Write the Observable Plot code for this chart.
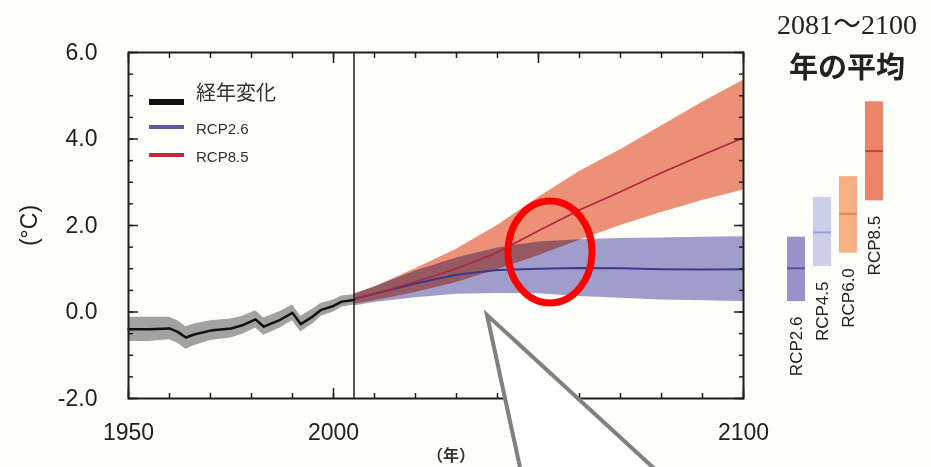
<!DOCTYPE html>
<html><head><meta charset="utf-8">
<script src="https://cdn.jsdelivr.net/npm/d3@7"></script>
<script src="https://cdn.jsdelivr.net/npm/@observablehq/plot@0.6"></script>
<style>
html,body{margin:0;padding:0;background:#fdfdf9;}
#wrap{position:relative;width:931px;height:467px;overflow:hidden;font-family:"Liberation Sans",Arial,sans-serif;}
#wrap > svg{position:absolute;left:0;top:0;}
</style></head><body><div id="wrap"></div>
<script>
// historical (経年変化)
const histYears = [1950,1955,1960,1962,1964,1966,1970,1975,1978,1981,1983,1987,1990,1992,1995,1997,2000,2002,2005];
const histMean  = [-0.40,-0.40,-0.38,-0.46,-0.59,-0.52,-0.43,-0.38,-0.30,-0.17,-0.34,-0.18,-0.02,-0.28,-0.10,0.05,0.14,0.24,0.28];
const histHi    = [-0.12,-0.12,-0.12,-0.20,-0.34,-0.28,-0.20,-0.16,-0.09,0.03,-0.14,0.01,0.16,-0.10,0.07,0.20,0.28,0.37,0.40];
const histLo    = [-0.68,-0.68,-0.64,-0.72,-0.86,-0.78,-0.66,-0.60,-0.51,-0.37,-0.54,-0.37,-0.20,-0.46,-0.27,-0.10,0.00,0.11,0.16];

// projections
const projYears = [2005,2010,2020,2030,2040,2050,2060,2070,2080,2090,2100];
const rcp85Mean = [0.30,0.42,0.70,1.00,1.38,1.88,2.36,2.78,3.22,3.63,4.03];
const rcp85Hi   = [0.40,0.58,1.00,1.45,2.00,2.65,3.25,3.75,4.30,4.85,5.36];
const rcp85Lo   = [0.18,0.26,0.45,0.68,0.98,1.30,1.66,2.00,2.30,2.58,2.82];
const rcp26Mean = [0.30,0.42,0.66,0.86,0.97,1.00,1.02,1.01,0.99,0.98,0.99];
const rcp26Hi   = [0.42,0.58,0.95,1.25,1.48,1.62,1.67,1.70,1.71,1.73,1.74];
const rcp26Lo   = [0.14,0.22,0.33,0.41,0.43,0.42,0.36,0.32,0.28,0.26,0.24];

// 2081～2100 averages
const scenarios = ["RCP2.6","RCP4.5","RCP6.0","RCP8.5"];
const avgLo   = [0.24,1.05,1.36,2.57];
const avgHi   = [1.73,2.65,3.13,4.86];
const avgMean = [1.01,1.84,2.27,3.72];
const avgFill = ["#9b92c9","#cbcfeb","#f6b083","#eb8469"];
const avgLine = ["#5b4c98","#9d9fcf","#e2844f","#c2413c"];

const xMajor = [1950,2000,2050,2100];
const xLabels = [1950,2000,2100];
const yLabels = [-2,0,2,4,6];
const endYear = 2005;

const hist = histYears.map((x,i)=>({x, m:histMean[i], hi:histHi[i], lo:histLo[i]}));
const proj = projYears.map((x,i)=>({x, m85:rcp85Mean[i], hi85:rcp85Hi[i], lo85:rcp85Lo[i], m26:rcp26Mean[i], hi26:rcp26Hi[i], lo26:rcp26Lo[i]}));

const ink = "#1e1e1e";
const xMinor = d3.range(1950, 2101, 10);
const yMinor = d3.range(-2, 6.01, 0.5);
const tk = {fill: "none", stroke: ink, strokeWidth: 1.5, label: null};
const main = Plot.plot({
  width: 931, height: 467,
  marginLeft: 128, marginRight: 188, marginTop: 52, marginBottom: 69,
  x: {domain: [1950, 2100]},
  y: {domain: [-2, 6]},
  style: {background: "transparent", fontFamily: "'Liberation Sans', Arial, sans-serif", color: ink},
  marks: [
    Plot.areaY(hist, {x: "x", y1: "lo", y2: "hi", fill: "#a2a2a2"}),
    Plot.areaY(proj, {x: "x", y1: "lo85", y2: "hi85", fill: "#ec9078"}),
    Plot.areaY(proj, {x: "x", y1: "lo26", y2: "hi26", fill: "#a29ecf", mixBlendMode: "multiply"}),
    Plot.line(proj, {x: "x", y: "m26", stroke: "#3a3a8c", strokeWidth: 2}),
    Plot.line(proj, {x: "x", y: "m85", stroke: "#b3263a", strokeWidth: 1.6}),
    Plot.line(hist, {x: "x", y: "m", stroke: "#111", strokeWidth: 2.5}),
    Plot.ruleX([endYear], {stroke: ink, strokeWidth: 1.5}),
    // inward ticks (drawn outward, then shifted inside the frame)
    Plot.axisX({anchor: "bottom", ticks: xMinor, tickSize: 5, dy: -5, ...tk}),
    Plot.axisX({anchor: "bottom", ticks: xMajor, tickSize: 10, dy: -10, ...tk}),
    Plot.axisX({anchor: "top", ticks: xMinor, tickSize: 5, dy: 5, ...tk}),
    Plot.axisX({anchor: "top", ticks: xMajor, tickSize: 10, dy: 10, ...tk}),
    Plot.axisY({anchor: "left", ticks: yMinor, tickSize: 5, dx: 5, ...tk}),
    Plot.axisY({anchor: "left", ticks: yLabels, tickSize: 10, dx: 10, ...tk}),
    Plot.axisY({anchor: "right", ticks: yMinor, tickSize: 5, dx: -5, ...tk}),
    Plot.axisY({anchor: "right", ticks: yLabels, tickSize: 10, dx: -10, ...tk}),
    // labels
    Plot.axisX({anchor: "bottom", ticks: xLabels, tickSize: 0, tickPadding: 25, tickFormat: d => String(d), fontSize: 23, fill: "#222", label: null}),
    Plot.axisY({anchor: "left", ticks: yLabels, tickSize: 0, tickPadding: 31, tickFormat: d => d.toFixed(1), fontSize: 23, fill: "#222",
      label: "(°C)", labelAnchor: "center", labelOffset: 108, labelArrow: "none"}),
    Plot.frame({stroke: ink, strokeWidth: 2})
  ]
});

const idx = d3.range(scenarios.length);
const side = Plot.plot({
  width: 931, height: 467,
  marginLeft: 777.5, marginRight: 39, marginTop: 52, marginBottom: 69,
  x: {type: "band", domain: scenarios, padding: 0.32, axis: null},
  y: {domain: [-2, 6], axis: null},
  style: {background: "transparent", fontFamily: "'Liberation Sans', Arial, sans-serif"},
  marks: [
    Plot.barY(idx, {x: i => scenarios[i], y1: i => avgLo[i], y2: i => avgHi[i], fill: i => avgFill[i]}),
    Plot.tickY(idx, {x: i => scenarios[i], y: i => avgMean[i], stroke: i => avgLine[i], strokeWidth: 2}),
    Plot.text(idx, {x: i => scenarios[i], y: i => avgLo[i], text: i => scenarios[i], rotate: -90, textAnchor: "end", dy: 15, fontSize: 17, fill: "#222"})
  ]
});

const wrap = document.getElementById("wrap");
wrap.appendChild(main);
wrap.appendChild(side);

// overlay: legend, titles, annotations
const ov = d3.select(wrap).append("svg").attr("width", 931).attr("height", 467)
  .style("position","absolute").style("left","0").style("top","0");

const legend = [
  {label: "経年変化", color: "#111", w: 6, y: 102, ty: 95, fs: 20, font: "'Noto Sans CJK JP', sans-serif"},
  {label: "RCP2.6", color: "#5a5aa2", w: 4, y: 127, ty: 130, fs: 15, font: "'Liberation Sans', Arial, sans-serif"},
  {label: "RCP8.5", color: "#c4283c", w: 4, y: 155, ty: 158, fs: 15, font: "'Liberation Sans', Arial, sans-serif"}
];
legend.forEach(d => {
  ov.append("line").attr("x1", 149).attr("x2", 184).attr("y1", d.y).attr("y2", d.y)
    .attr("stroke", d.color).attr("stroke-width", d.w);
  ov.append("text").attr("x", 196).attr("y", d.ty).attr("dominant-baseline", "middle")
    .attr("font-family", d.font).attr("font-size", d.fs).attr("fill", "#333").text(d.label);
});

ov.append("text").attr("x", 847).attr("y", 34).attr("text-anchor", "middle")
  .attr("font-family", "'Liberation Serif', 'Noto Sans CJK JP', serif").attr("font-size", 28).attr("fill", "#222")
  .text("2081～2100");
ov.append("text").attr("x", 847).attr("y", 78).attr("text-anchor", "middle")
  .attr("font-family", "'Noto Sans CJK JP', sans-serif").attr("font-weight", "bold").attr("font-size", 29).attr("fill", "#222")
  .text("年の平均");

ov.append("text").attr("x", 451).attr("y", 461).attr("text-anchor", "middle")
  .attr("font-family", "'Noto Sans CJK JP', sans-serif").attr("font-weight", "bold").attr("font-size", 16).attr("fill", "#333")
  .text("（年）");

// callout
ov.append("path").attr("d", "M487,315 L521,472 L658,472 Z")
  .attr("fill", "#ffffff").attr("stroke", "#808080").attr("stroke-width", 4).attr("stroke-linejoin", "miter");
// highlight ellipse
ov.append("ellipse").attr("cx", 550).attr("cy", 252).attr("rx", 42).attr("ry", 51)
  .attr("fill", "none").attr("stroke", "#ff0000").attr("stroke-width", 7);
</script>
</body></html>
